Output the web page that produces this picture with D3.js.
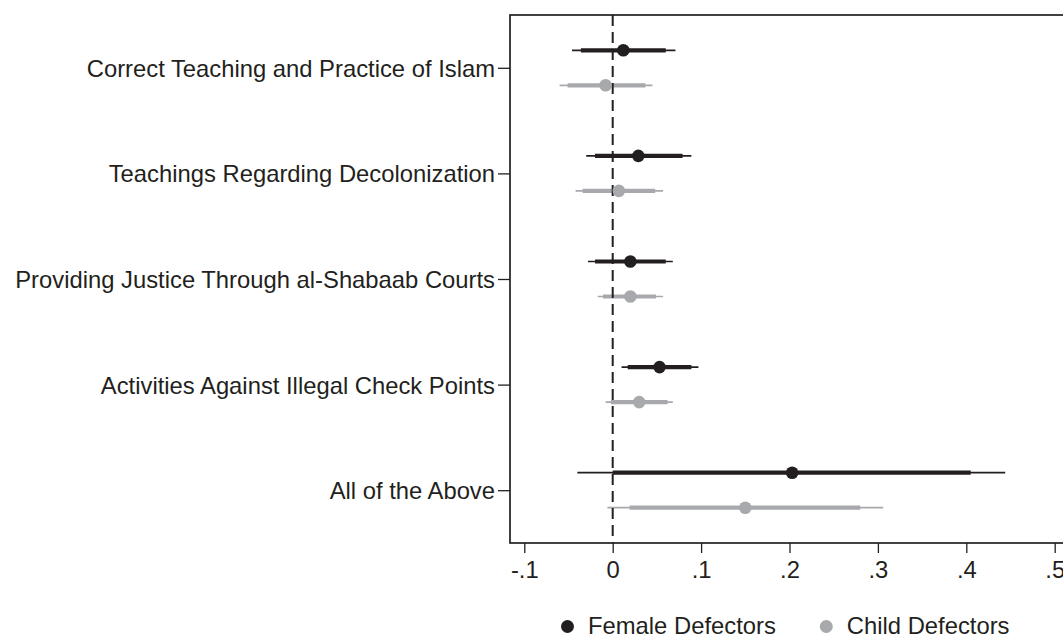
<!DOCTYPE html>
<html>
<head>
<meta charset="utf-8">
<script src="https://cdn.jsdelivr.net/npm/d3@7"></script>
<style>
  html, body { margin: 0; padding: 0; background: #fff; }
  svg { display: block; }
  text { font-family: "Liberation Sans", Arial, Helvetica, sans-serif; fill: #231f20; }
</style>
</head>
<body>
<svg id="chart" width="1063" height="637"></svg>
<script>
// Outcome categories (top to bottom)
const categories = [
  "Correct Teaching and Practice of Islam",
  "Teachings Regarding Decolonization",
  "Providing Justice Through al-Shabaab Courts",
  "Activities Against Illegal Check Points",
  "All of the Above"
];

// Female defectors: point estimate, 90% and 95% intervals
const femaleEst   = [0.012, 0.029, 0.020, 0.053, 0.203];
const femaleLo90  = [-0.036, -0.020, -0.020, 0.017, 0.000];
const femaleHi90  = [0.060, 0.079, 0.060, 0.089, 0.405];
const femaleLo95  = [-0.046, -0.030, -0.028, 0.010, -0.040];
const femaleHi95  = [0.071, 0.089, 0.068, 0.097, 0.444];

// Child defectors: point estimate, 90% and 95% intervals
const childEst    = [-0.008, 0.007, 0.020, 0.030, 0.150];
const childLo90   = [-0.051, -0.034, -0.011, -0.002, 0.019];
const childHi90   = [0.037, 0.048, 0.049, 0.062, 0.280];
const childLo95   = [-0.060, -0.042, -0.017, -0.008, -0.006];
const childHi95   = [0.045, 0.057, 0.057, 0.068, 0.306];

const xTicks = [-0.1, 0, 0.1, 0.2, 0.3, 0.4, 0.5];
const xTickLabels = ["-.1", "0", ".1", ".2", ".3", ".4", ".5"];

const seriesNames = ["Female Defectors", "Child Defectors"];
const seriesColors = ["#231f20", "#a7a9ac"];

const series = [
  { name: seriesNames[0], color: seriesColors[0], offset: -17.5,
    est: femaleEst, lo90: femaleLo90, hi90: femaleHi90, lo95: femaleLo95, hi95: femaleHi95 },
  { name: seriesNames[1], color: seriesColors[1], offset: 17.5,
    est: childEst, lo90: childLo90, hi90: childHi90, lo95: childLo95, hi95: childHi95 }
];

const svg = d3.select("#chart");
const FONT = 23.8;
const frame = { left: 510, right: 1080, top: 15, bottom: 543 };

const x = d3.scaleLinear().domain([-0.1, 0.5]).range([524.3, 1054.7]);
const y = d3.scalePoint().domain(categories).range([frame.top, frame.bottom]).padding(0.5);

// Plot frame
svg.append("rect")
  .attr("x", frame.left).attr("y", frame.top)
  .attr("width", frame.right - frame.left).attr("height", frame.bottom - frame.top)
  .attr("fill", "none").attr("stroke", "#231f20").attr("stroke-width", 1.7);

// Y axis (category labels)
const yAxis = d3.axisLeft(y).tickSize(12).tickPadding(3);
const gy = svg.append("g").attr("transform", `translate(${frame.left},0)`).call(yAxis);
gy.select(".domain").remove();
gy.selectAll(".tick line").attr("stroke", "#231f20").attr("stroke-width", 1.3);
gy.selectAll(".tick text")
  .attr("font-size", FONT).attr("fill", "#231f20")
  .attr("dy", "0.36em");

// X axis
const xAxis = d3.axisBottom(x).tickValues(xTicks)
  .tickFormat((d, i) => xTickLabels[i]).tickSize(10).tickPadding(0);
const gx = svg.append("g").attr("transform", `translate(0,${frame.bottom})`).call(xAxis);
gx.select(".domain").remove();
gx.selectAll(".tick line").attr("stroke", "#231f20").attr("stroke-width", 1.3);
gx.selectAll(".tick text")
  .attr("font-size", FONT).attr("fill", "#231f20")
  .attr("y", 35).attr("dy", 0);

// Estimates with 95% (thin) and 90% (thick) intervals
series.forEach(s => {
  const g = svg.append("g");
  g.selectAll("line.ci95").data(categories).join("line")
    .attr("class", "ci95")
    .attr("x1", (d, i) => x(s.lo95[i])).attr("x2", (d, i) => x(s.hi95[i]))
    .attr("y1", d => y(d) + s.offset).attr("y2", d => y(d) + s.offset)
    .attr("stroke", s.color).attr("stroke-width", 1.7);
  g.selectAll("line.ci90").data(categories).join("line")
    .attr("class", "ci90")
    .attr("x1", (d, i) => x(s.lo90[i])).attr("x2", (d, i) => x(s.hi90[i]))
    .attr("y1", d => y(d) + s.offset).attr("y2", d => y(d) + s.offset)
    .attr("stroke", s.color).attr("stroke-width", 4.2);
});

// Reference line at zero
svg.append("line")
  .attr("x1", x(0)).attr("x2", x(0))
  .attr("y1", frame.top).attr("y2", frame.bottom)
  .attr("stroke", "#231f20").attr("stroke-width", 2)
  .attr("stroke-dasharray", "11,6");

series.forEach(s => {
  svg.append("g").selectAll("circle").data(categories).join("circle")
    .attr("cx", (d, i) => x(s.est[i]))
    .attr("cy", d => y(d) + s.offset)
    .attr("r", 6.3)
    .attr("fill", s.color);
});

// Legend
const legendX = [567.5, 826.3];
const legend = svg.append("g");
series.forEach((s, i) => {
  legend.append("circle")
    .attr("cx", legendX[i]).attr("cy", 626.5).attr("r", 6.5).attr("fill", s.color);
  legend.append("text")
    .attr("x", legendX[i] + 20.5).attr("y", 634)
    .attr("font-size", FONT).attr("fill", "#231f20")
    .text(s.name);
});
</script>
</body>
</html>
